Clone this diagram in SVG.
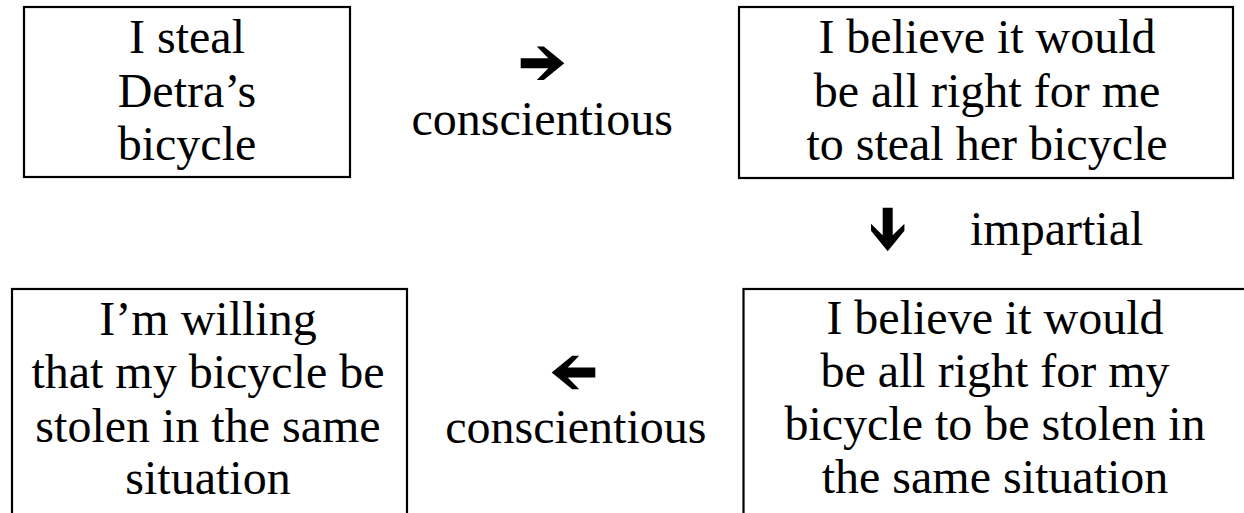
<svg xmlns="http://www.w3.org/2000/svg" width="1244" height="513" viewBox="0 0 1244 513">
  <style>
    .box { fill: #ffffff; stroke: #000000; stroke-width: 2.2; }
    .c { text-anchor: middle; }
    .arrow { fill: #000000; }
  </style>
  <defs>
    <!-- bold block arrow pointing right, tip at the origin -->
    <path id="blockArrow" d="M0,0 L-20.5,-16.7 L-27.5,-16.7 L-16,-5 L-43.6,-5 L-43.6,5 L-16,5 L-27.5,16.7 L-20.5,16.7 Z"/>
  </defs>
  <rect width="1244" height="513" fill="#ffffff"/>

  <g font-family="Liberation Serif, Tinos, Nimbus Roman, Nimbus Roman No9 L, FreeSerif, Noto Serif, DejaVu Serif, Times New Roman, Times, serif" font-size="48" fill="#000000">
  <g id="node-steal">
    <rect class="box" x="24" y="7" width="326" height="170"/>
    <text class="c" x="187" y="53.3">I steal</text>
    <text class="c" x="187" y="107">Detra’s</text>
    <text class="c" x="187" y="160">bicycle</text>
  </g>

  <g id="node-believe-steal">
    <rect class="box" x="739" y="7" width="494" height="171"/>
    <text class="c" x="987" y="53.3">I believe it would</text>
    <text class="c" x="987" y="106.7">be all right for me</text>
    <text class="c" x="987" y="160">to steal her bicycle</text>
  </g>

  <g id="node-willing">
    <rect class="box" x="12" y="289" width="395" height="240"/>
    <text class="c" x="208" y="335">I’m willing</text>
    <text class="c" x="208" y="388.3">that my bicycle be</text>
    <text class="c" x="208" y="441.7">stolen in the same</text>
    <text class="c" x="208" y="494">situation</text>
  </g>

  <g id="node-believe-stolen">
    <rect class="box" x="743.5" y="289" width="520" height="240"/>
    <text class="c" x="995" y="334">I believe it would</text>
    <text class="c" x="995" y="387">be all right for my</text>
    <text class="c" x="995" y="440">bicycle to be stolen in</text>
    <text class="c" x="995" y="493">the same situation</text>
  </g>

  <g id="connectors">
    <g id="edge-conscientious-1">
      <use href="#blockArrow" class="arrow" transform="translate(564.3,63.3)"/>
      <text class="c" x="542.2" y="135">conscientious</text>
    </g>
    <g id="edge-impartial">
      <use href="#blockArrow" class="arrow" transform="translate(887.7,251.3) rotate(90)"/>
      <text x="970" y="245">impartial</text>
    </g>
    <g id="edge-conscientious-2">
      <use href="#blockArrow" class="arrow" transform="translate(551.7,372.5) rotate(180)"/>
      <text class="c" x="575.8" y="443">conscientious</text>
    </g>
  </g>
  </g>
</svg>
